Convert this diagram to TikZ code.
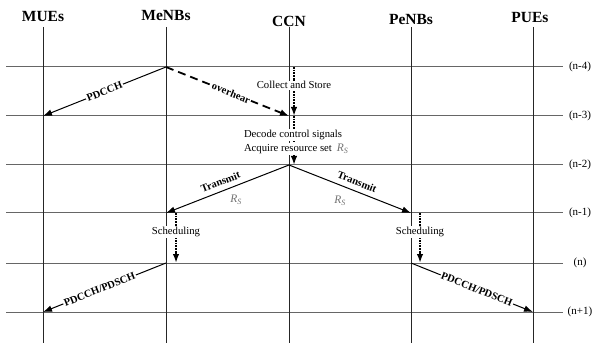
\documentclass[tikz,border=0pt]{standalone}
\usepackage{fontspec}
\setmainfont{Liberation Serif}
\usetikzlibrary{arrows.meta}
\begin{document}
\begin{tikzpicture}[x=1pt,y=-1pt,
 head/.style={font=\fontsize{15.5}{17}\selectfont\bfseries, inner sep=0pt},
 life/.style={line width=0.9pt, black!85},
 rowline/.style={line width=1pt, black!60},
 rowlabel/.style={font=\fontsize{11}{12}\selectfont, inner sep=0pt},
 msg/.style={line width=1pt, -{Latex[length=9pt,width=6.5pt]}},
 dashmsg/.style={line width=1.8pt, dash pattern=on 8pt off 5pt, -{Latex[length=9pt,width=7pt]}},
 dotmsg/.style={line width=2pt, dash pattern=on 1.8pt off 0.9pt, -{Latex[length=9pt,width=6.5pt]}},
 lbl/.style={font=\fontsize{10.5}{11}\selectfont\bfseries, fill=white, inner sep=1pt, sloped},
 tlbl/.style={font=\fontsize{10.5}{11}\selectfont\bfseries, inner sep=1pt, sloped},
 note/.style={font=\fontsize{10.7}{12}\selectfont, fill=white, inner sep=0.8pt},
 rs/.style={font=\fontsize{11.5}{12}\selectfont, text=black!55, inner sep=0pt}
]
\useasboundingbox (0,0) rectangle (593,344);

% intersection coordinates
\foreach \n/\x in {mue/43,menb/166,ccn/289,penb/411,pue/533}{
  \foreach \r/\y in {a/67,b/116,c/165,d/213,e/263,f/312}{
    \coordinate (\n-\r) at (\x,\y);
  }
}

% time rows
\foreach \r/\y/\t in {a/67/(n-4),b/116/(n-3),c/165/(n-2),d/213/(n-1),e/263/(n),f/312/(n+1)}{
  \coordinate (L-\r) at (6,\y);
  \coordinate (R-\r) at (563,\y);
  \node[rowlabel] (lab-\r) at (580,\y) {\t};
  \draw[rowline] (L-\r) -- (R-\r);
}

% headers and lifelines
\node[head] (MUEs)  at (43,17)  {MUEs};
\node[head] (MeNBs) at (166,16) {MeNBs};
\node[head] (CCN)   at (289,21) {CCN};
\node[head] (PeNBs) at (411,20) {PeNBs};
\node[head] (PUEs)  at (530,18) {PUEs};
\foreach \n/\x in {mue/43,menb/166,ccn/289,penb/411,pue/533}{
  \coordinate (\n-top) at (\x,27);
  \coordinate (\n-bot) at (\x,343);
  \draw[life] (\n-top) -- (\n-bot);
}

% messages
\draw[msg] (menb-a) -- node[lbl, pos=0.5] {PDCCH} (mue-b);
\draw[dashmsg] (menb-a) -- node[lbl, pos=0.53] {overhear} (ccn-b);

\draw[dotmsg] ([xshift=5pt]ccn-a) -- node[note, pos=0.37] (collect) {Collect and Store} ([xshift=5pt]ccn-b);
\draw[dotmsg] ([xshift=5pt]ccn-b) -- ([xshift=5pt]ccn-c);
\node[note, anchor=west] (decode) at (243,135) {Decode control signals};
\node[note, anchor=west] (acquire) at (243,149) {Acquire resource set\hspace{5pt}{\color{black!55}\fontsize{11.5}{12}\selectfont\itshape R\textsubscript{S}}};

\draw[msg] (ccn-c) -- node[tlbl, pos=0.53, above=4pt] {Transmit}
                      node[rs, pos=0.43, yshift=-14pt] {\itshape R\textsubscript{S}} (menb-d);
\draw[msg] (ccn-c) -- node[tlbl, pos=0.53, above=4pt] {Transmit}
                      node[rs, pos=0.42, yshift=-16pt] {\itshape R\textsubscript{S}} (penb-d);

\draw[dotmsg] ([xshift=10pt]menb-d) -- node[note, pos=0.38] (sched1) {Scheduling} ([xshift=10pt]menb-e);
\draw[dotmsg] ([xshift=9pt]penb-d) -- node[note, pos=0.38] (sched2) {Scheduling} ([xshift=9pt]penb-e);

\draw[msg] (menb-e) -- node[lbl, pos=0.54] {PDCCH/PDSCH} (mue-f);
\draw[msg] (penb-e) -- node[lbl, pos=0.54] {PDCCH/PDSCH} (pue-f);
\end{tikzpicture}
\end{document}
